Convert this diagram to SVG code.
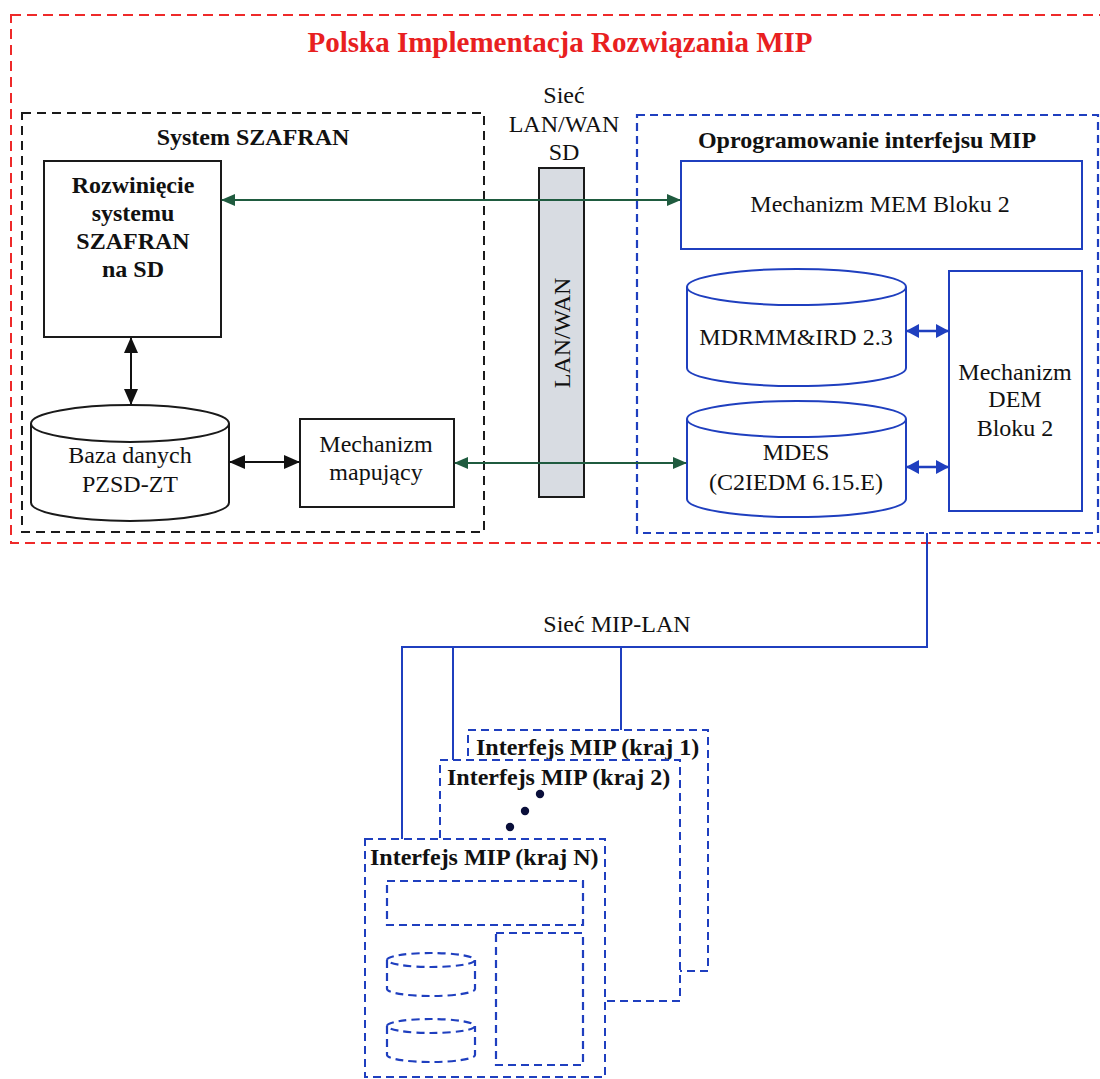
<svg xmlns="http://www.w3.org/2000/svg" width="1100" height="1079" viewBox="0 0 1100 1079">
<style>
text{font-family:"Liberation Serif","Times New Roman",serif;font-size:24px;fill:#111}
.b{font-weight:bold}
.c{text-anchor:middle}
.title{fill:#e8201f;font-size:29px;font-weight:bold}
.red{fill:none;stroke:#ee2a2a;stroke-width:2;stroke-dasharray:10 6}
.blk{fill:none;stroke:#1a1a1a;stroke-width:2;stroke-dasharray:9 6}
.bdash{fill:#fff;stroke:#1f3fbf;stroke-width:2;stroke-dasharray:8 5}
.bdi{fill:none;stroke:#1f3fbf;stroke-width:2.2;stroke-dasharray:8 5}
.box{fill:#fff;stroke:#1a1a1a;stroke-width:2}
.bbox{fill:#fff;stroke:#1f3fbf;stroke-width:2}
.gl{stroke:#1f5b3f;stroke-width:2;fill:none}
.kl{stroke:#111;stroke-width:2;fill:none}
.bl{stroke:#1f3fbf;stroke-width:2.5;fill:none}
.net{stroke:#1f3fbf;stroke-width:2;fill:none}
</style>
<defs>
<marker id="ga" viewBox="0 0 14 12" refX="13" refY="6" markerWidth="14" markerHeight="12" markerUnits="userSpaceOnUse" orient="auto-start-reverse"><path d="M0,0 L14,6 L0,12 z" fill="#1f5b3f"/></marker>
<marker id="ka" viewBox="0 0 16 14" refX="15" refY="7" markerWidth="16" markerHeight="14" markerUnits="userSpaceOnUse" orient="auto-start-reverse"><path d="M0,0 L16,7 L0,14 z" fill="#111"/></marker>
<marker id="ba" viewBox="0 0 13 14" refX="12" refY="7" markerWidth="13" markerHeight="14" markerUnits="userSpaceOnUse" orient="auto-start-reverse"><path d="M0,0 L13,7 L0,14 z" fill="#1f3fbf"/></marker>
</defs>
<rect width="1100" height="1079" fill="#fff"/>

<g id="frame-polska">
<rect class="red" x="11" y="15" width="1100" height="528"/>
<text class="title c" x="560" y="52">Polska Implementacja Rozwiązania MIP</text>
</g>

<g id="group-szafran">
<rect class="blk" x="22" y="113" width="462" height="419"/>
<text class="b c" x="253" y="145">System SZAFRAN</text>
</g>

<g id="node-rozwiniecie">
<rect class="box" x="44" y="161" width="177" height="176"/>
<text class="b c" x="133" y="193">Rozwinięcie</text>
<text class="b c" x="133" y="221">systemu</text>
<text class="b c" x="133" y="249">SZAFRAN</text>
<text class="b c" x="133" y="277">na SD</text>
</g>

<g id="node-baza">
<path class="box" d="M31,423.5 L31,502.5 A99,18.5 0 0 0 229,502.5 L229,423.5"/>
<ellipse cx="130" cy="423.5" rx="99" ry="18.5" fill="#fff" stroke="#1a1a1a" stroke-width="2"/>
<text class="c" x="130" y="463">Baza danych</text>
<text class="c" x="130" y="492">PZSD-ZT</text>
</g>

<g id="node-mapujacy">
<rect class="box" x="300" y="419" width="154" height="88"/>
<text class="c" x="376" y="452">Mechanizm</text>
<text class="c" x="376" y="480">mapujący</text>
</g>

<g id="node-lanwan">
<text class="c" x="564" y="103">Sieć</text>
<text class="c" x="564" y="132">LAN/WAN</text>
<text class="c" x="564" y="160">SD</text>
<rect x="539" y="168" width="45" height="329" fill="#d8dce2" stroke="#1a1a1a" stroke-width="2"/>
<text class="c" transform="translate(570,333) rotate(-90)">LAN/WAN</text>
</g>

<g id="group-oprogramowanie">
<rect class="bdi" x="637" y="115" width="461" height="418"/>
<text class="b c" x="867" y="148">Oprogramowanie interfejsu MIP</text>
</g>

<g id="node-mem">
<rect class="bbox" x="681" y="161" width="401" height="88"/>
<text class="c" x="880" y="212">Mechanizm MEM Bloku 2</text>
</g>

<g id="node-mdrmm">
<path class="bbox" d="M687,287 L687,368 A109.5,18 0 0 0 906,368 L906,287"/>
<ellipse cx="796.5" cy="287" rx="109.5" ry="18" fill="#fff" stroke="#1f3fbf" stroke-width="2"/>
<text class="c" x="796" y="345">MDRMM&amp;IRD 2.3</text>
</g>

<g id="node-mdes">
<path class="bbox" d="M687,419 L687,499 A109.5,18 0 0 0 906,499 L906,419"/>
<ellipse cx="796.5" cy="419" rx="109.5" ry="18" fill="#fff" stroke="#1f3fbf" stroke-width="2"/>
<text class="c" x="796" y="460">MDES</text>
<text class="c" x="796" y="490">(C2IEDM 6.15.E)</text>
</g>

<g id="node-dem">
<rect class="bbox" x="949" y="271" width="133" height="240"/>
<text class="c" x="1015" y="380">Mechanizm</text>
<text class="c" x="1015" y="407">DEM</text>
<text class="c" x="1015" y="436">Bloku 2</text>
</g>

<g id="node-kraj1">
<rect class="bdash" x="468" y="730" width="240" height="241"/>
<text class="b" x="476" y="755">Interfejs MIP (kraj 1)</text>
</g>

<g id="node-kraj2">
<rect class="bdash" x="440" y="760" width="240" height="241"/>
<text class="b" x="447" y="785">Interfejs MIP (kraj 2)</text>
<circle cx="540" cy="794" r="4.2" fill="#0a0f3a"/>
<circle cx="525" cy="811" r="4.2" fill="#0a0f3a"/>
<circle cx="510" cy="827" r="4.2" fill="#0a0f3a"/>
</g>

<g id="node-krajN">
<rect class="bdash" x="365" y="839" width="240" height="238"/>
<text class="b" x="370" y="865">Interfejs MIP (kraj N)</text>
<rect class="bdi" x="387" y="881" width="196" height="44"/>
<rect class="bdi" x="496" y="933" width="87" height="132"/>
<path class="bdi" d="M387,960 L387,989 A44,7 0 0 0 475,989 L475,960"/>
<ellipse class="bdi" cx="431" cy="960" rx="44" ry="7"/>
<path class="bdi" d="M387,1026 L387,1055 A44,7 0 0 0 475,1055 L475,1026"/>
<ellipse class="bdi" cx="431" cy="1026" rx="44" ry="7"/>
</g>

<g id="connectors">
<line class="gl" x1="222" y1="200" x2="680" y2="200" marker-start="url(#ga)" marker-end="url(#ga)"/>
<line class="gl" x1="455" y1="463" x2="686" y2="463" marker-start="url(#ga)" marker-end="url(#ga)"/>
<line class="kl" x1="131" y1="338" x2="131" y2="404" marker-start="url(#ka)" marker-end="url(#ka)"/>
<line class="kl" x1="230" y1="462" x2="299" y2="462" marker-start="url(#ka)" marker-end="url(#ka)"/>
<line class="bl" x1="907" y1="331" x2="948" y2="331" marker-start="url(#ba)" marker-end="url(#ba)"/>
<line class="bl" x1="907" y1="467" x2="948" y2="467" marker-start="url(#ba)" marker-end="url(#ba)"/>
<path class="net" d="M927,533 L927,647 L402,647 L402,839"/>
<line class="net" x1="453" y1="647" x2="453" y2="760"/>
<line class="net" x1="621" y1="647" x2="621" y2="730"/>
<text class="c" x="617" y="632">Sieć MIP-LAN</text>
</g>
</svg>
